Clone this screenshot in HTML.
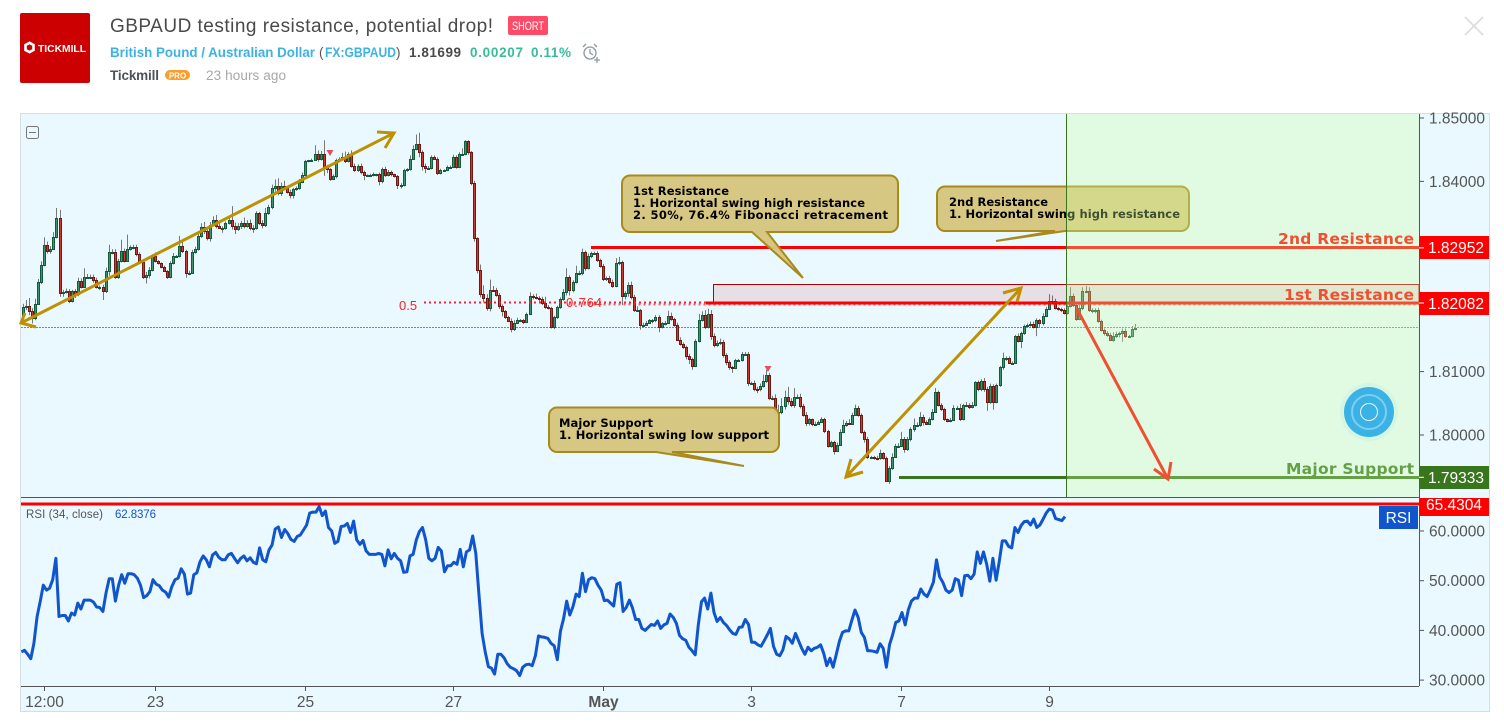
<!DOCTYPE html>
<html lang="en">
<head>
<meta charset="utf-8">
<title>GBPAUD testing resistance, potential drop!</title>
<style>
html,body{margin:0;padding:0;background:#fff;width:1504px;height:726px;overflow:hidden}
svg{display:block}
.sans{font-family:"Liberation Sans",sans-serif}
.note{font-family:"DejaVu Sans","Liberation Sans",sans-serif;font-weight:bold}
.axis{font-family:"Liberation Sans",sans-serif;font-size:15.5px;fill:#555}
</style>
</head>
<body>
<svg id="page" xmlns="http://www.w3.org/2000/svg" width="1504" height="726" viewBox="0 0 1504 726">
  <defs>
    <clipPath id="rsiClip"><rect x="21" y="498" width="1398" height="188"/></clipPath>
    <clipPath id="mainClip"><rect x="21" y="114" width="1398" height="383"/></clipPath>
  </defs>

  <!-- header -->
  <g>
    <rect x="20" y="13" width="70" height="70" rx="2" fill="#cc0000"/>
    <polygon points="25.5,45 29.500,42.800 33.500,45 33.500,50 29.500,52.200 25.500,50" fill="none" stroke="#fff" stroke-width="2.6"/>
    <text x="38" y="52" class="sans" font-size="10.5" font-weight="bold" fill="#fff" textLength="48" lengthAdjust="spacingAndGlyphs">TICKMILL</text>
    <text x="110" y="32" class="sans" font-size="19" fill="#4a4a4a" textLength="383">GBPAUD testing resistance, potential drop!</text>
    <rect x="508" y="16" width="40" height="19" rx="2" fill="#ff4a68"/>
    <text x="528" y="30" class="sans" font-size="12" fill="#fff" text-anchor="middle" textLength="32" lengthAdjust="spacingAndGlyphs">SHORT</text>
    <text x="110" y="57" class="sans" font-size="13.5" font-weight="bold" fill="#3bb3e4" textLength="205" lengthAdjust="spacingAndGlyphs">British Pound / Australian Dollar</text>
    <text x="319" y="57" class="sans" font-size="13.5" fill="#555">(</text>
    <text x="325" y="57" class="sans" font-size="13.5" font-weight="bold" fill="#3bb3e4" textLength="71" lengthAdjust="spacingAndGlyphs">FX:GBPAUD</text>
    <text x="396" y="57" class="sans" font-size="13.5" fill="#555">)</text>
    <text x="409" y="57" class="sans" font-size="13.5" font-weight="bold" fill="#4a4a4a" textLength="52">1.81699</text>
    <text x="470" y="57" class="sans" font-size="13.5" font-weight="bold" fill="#37bc9b" textLength="53">0.00207</text>
    <text x="531" y="57" class="sans" font-size="13.5" font-weight="bold" fill="#37bc9b" textLength="40">0.11%</text>
    <g fill="none" stroke="#8a9aa0" stroke-width="1.3">
      <circle cx="590" cy="53" r="6"/>
      <path d="M590 49v4l3 2M583 47l3-3M597 47l-3-3M594 60h6M597 57v6"/>
    </g>
    <text x="110" y="80" class="sans" font-size="13.5" font-weight="bold" fill="#4c525e" textLength="49">Tickmill</text>
    <rect x="165" y="70" width="25" height="10" rx="5" fill="#f89e2e"/>
    <text x="177.5" y="78.3" class="sans" font-size="8" font-weight="bold" fill="#fff" text-anchor="middle">PRO</text>
    <text x="206" y="80" class="sans" font-size="13.5" fill="#a8a8a8" textLength="80">23 hours ago</text>
    <path d="M1465 17l18 18M1483 17l-18 18" stroke="#dcdcdc" stroke-width="1.6" fill="none"/>
  </g>

  <!-- chart frame -->
  <rect x="20.5" y="113.5" width="1469" height="598" fill="#e9f9ff" stroke="#d6dee4"/>

  <line x1="21" x2="1419" y1="327.5" y2="327.5" stroke="#5a9a80" stroke-width="1" stroke-dasharray="2 1"/>

  <g id="candles" clip-path="url(#mainClip)"></g>

  <polygon points="326.5,150 333.5,150 330,156" fill="#e05060"/>
  <polygon points="764.5,366 771.5,366 768,372" fill="#e05060"/>

  <!-- fib + resistance -->
  <rect x="713.5" y="284.5" width="705.5" height="18" fill="#cc0000" fill-opacity="0.1" stroke="#b00000" stroke-width="1"/>
  <line x1="424" x2="1419" y1="302.500" y2="302.500" stroke="#ff2030" stroke-width="2" stroke-dasharray="2 3"/>
  <line x1="566" x2="1419" y1="304.500" y2="304.500" stroke="#ff2030" stroke-width="2" stroke-dasharray="2 3" stroke-dashoffset="2.500" stroke-opacity="0.7"/>
  <text x="399" y="310" class="sans" font-size="13" fill="#ff2020">0.5</text>
  <text x="566" y="307" class="sans" font-size="13" fill="#ff2020" textLength="36">0.764</text>
  <line x1="591" x2="1419" y1="247.5" y2="247.5" stroke="#ff0000" stroke-width="3"/>
  <line x1="706" x2="1419" y1="303" y2="303" stroke="#ff0000" stroke-width="3"/>
  <line x1="899" x2="1419" y1="477.5" y2="477.5" stroke="#38761d" stroke-width="3"/>

  <text x="1414" y="244" text-anchor="end" class="note" font-size="15.5" fill="#ff0000" textLength="136">2nd Resistance</text>
  <text x="1414" y="300" text-anchor="end" class="note" font-size="15.5" fill="#ff0000" textLength="130">1st Resistance</text>
  <text x="1414" y="474" text-anchor="end" class="note" font-size="15.5" fill="#38761d" textLength="128">Major Support</text>

  <!-- arrows -->
  <g fill="none" stroke="#bf9000" stroke-width="3">
    <path d="M21 323L394 133M377 132L394 133L385 148M36 327L21 323L25 313"/>
  </g>
  <g fill="none" stroke="#bf9000" stroke-width="3">
    <path d="M1021 288L846 477M1003 293L1021 288L1017 302M851 459L846 477L863 472"/>
  </g>
  <g fill="none" stroke="#ff0000" stroke-width="3">
    <path d="M1077 309L1168 479M1154 469L1168 479L1171 462"/>
  </g>

  <!-- callouts -->
  <g>
    <path d="M630 175.500H890a8 8 0 0 1 8 8V224a8 8 0 0 1-8 8H767L803 278L752 232H630a8 8 0 0 1-8-8V183.500a8 8 0 0 1 8-8Z" fill="#d5c57e" fill-opacity="0.97" stroke="#a88a1c" stroke-width="2"/>
    <text x="633" y="195" class="note" font-size="11.500" fill="#000" textLength="96">1st Resistance</text>
    <text x="633" y="207" class="note" font-size="11.500" fill="#000" textLength="232">1. Horizontal swing high resistance</text>
    <text x="633" y="219" class="note" font-size="11.500" fill="#000" textLength="255">2. 50%, 76.4% Fibonacci retracement</text>
  </g>
  <g>
    <path d="M945 186.500H1181a8 8 0 0 1 8 8V223a8 8 0 0 1-8 8H1065L996 241L1055 231H945a8 8 0 0 1-8-8V194.500a8 8 0 0 1 8-8Z" fill="#d5c57e" fill-opacity="0.97" stroke="#a88a1c" stroke-width="2"/>
    <text x="949" y="206" class="note" font-size="11.500" fill="#000" textLength="99">2nd Resistance</text>
    <text x="949" y="218" class="note" font-size="11.500" fill="#000" textLength="231">1. Horizontal swing high resistance</text>
  </g>
  <g>
    <path d="M557 407.500H771a8 8 0 0 1 8 8V444a8 8 0 0 1-8 8H672L744 466L656 452H557a8 8 0 0 1-8-8V415.500a8 8 0 0 1 8-8Z" fill="#d5c57e" fill-opacity="0.97" stroke="#a88a1c" stroke-width="2"/>
    <text x="559" y="427" class="note" font-size="11.500" fill="#000" textLength="94">Major Support</text>
    <text x="559" y="439" class="note" font-size="11.500" fill="#000" textLength="210">1. Horizontal swing low support</text>
  </g>

  <!-- forecast overlay -->
  <rect x="1066" y="114" width="353" height="383" fill="rgb(206,255,161)" fill-opacity="0.31"/>
  <line x1="1066.500" x2="1066.500" y1="114" y2="497" stroke="#38761d" stroke-width="1"/>

  <g>
    <circle cx="1369" cy="412" r="29" fill="#3bb2e6" fill-opacity="0.07"/>
    <circle cx="1369" cy="412" r="25" fill="#3bb2e6"/>
    <circle cx="1369" cy="412" r="17" fill="none" stroke="#ffffff" stroke-opacity="0.35" stroke-width="2"/>
    <circle cx="1369" cy="412" r="8.500" fill="none" stroke="#ffffff" stroke-opacity="0.9" stroke-width="1"/>
  </g>

  <!-- collapse -->
  <g>
    <rect x="26.500" y="126.500" width="12" height="12" rx="2" fill="none" stroke="#777" stroke-width="1"/>
    <line x1="29" x2="36" y1="132.500" y2="132.500" stroke="#777" stroke-width="1"/>
  </g>

  <!-- pane dividers -->
  <line x1="21" x2="1419" y1="497.500" y2="497.500" stroke="#555" stroke-width="1"/>
  <line x1="21" x2="1419" y1="686.500" y2="686.500" stroke="#555" stroke-width="1"/>
  <line x1="1419.500" x2="1419.500" y1="114" y2="686" stroke="#555" stroke-width="1"/>

  <!-- rsi -->
  <path id="rsiLine" clip-path="url(#rsiClip)" fill="none" stroke="#1155cc" stroke-width="3" stroke-linejoin="round"/>
  <line x1="21" x2="1419" y1="504" y2="504" stroke="#ff0000" stroke-width="3"/>
  <text x="26" y="518" class="sans" font-size="11.500" fill="#555" textLength="77">RSI (34, close)</text>
  <text x="115" y="518" class="sans" font-size="11.500" fill="#1155cc" textLength="41">62.8376</text>
  <rect x="1379" y="506" width="39" height="23" fill="#1155cc"/>
  <text x="1398.500" y="523" text-anchor="middle" class="sans" font-size="15.500" fill="#fff">RSI</text>

  <!-- price tags -->
  <g>
    <rect x="1419" y="236" width="70" height="23" fill="#ff0000"/>
    <text x="1428" y="253" class="sans" font-size="15.500" fill="#fff">1.82952</text>
  </g>
  <g>
    <rect x="1419" y="292" width="70" height="23" fill="#ff0000"/>
    <text x="1428" y="309" class="sans" font-size="15.500" fill="#fff">1.82082</text>
  </g>
  <g>
    <rect x="1419" y="466" width="70" height="23" fill="#38761d"/>
    <text x="1428" y="483" class="sans" font-size="15.500" fill="#fff">1.79333</text>
  </g>
  <g>
    <rect x="1419" y="498" width="70" height="18" fill="#ff0000"/>
    <text x="1426" y="510" class="sans" font-size="15.500" fill="#fff">65.4304</text>
  </g>

  <g id="axes"></g>
</svg>

<script>
var firstOpen = 1.8189;
var closes = [
1.8202,1.8204,1.8196,1.8184,1.8207,1.8241,1.8268,1.8300,1.8290,1.8294,1.8312,1.8342,1.8224,1.8226,1.8227,1.8211,1.8227,1.8222,1.8243,1.8234,
1.8249,1.8249,1.8250,1.8244,1.8234,1.8234,1.8227,1.8259,1.8288,1.8288,1.8249,1.8274,1.8290,1.8275,1.8294,1.8296,1.8296,1.8286,1.8273,1.8249,
1.8252,1.8261,1.8282,1.8274,1.8271,1.8265,1.8259,1.8250,1.8271,1.8282,1.8282,1.8298,1.8290,1.8256,1.8256,1.8289,1.8293,1.8314,1.8328,1.8321,
1.8310,1.8331,1.8339,1.8329,1.8327,1.8327,1.8334,1.8339,1.8329,1.8325,1.8330,1.8335,1.8329,1.8334,1.8327,1.8327,1.8350,1.8334,1.8331,1.8350,
1.8359,1.8389,1.8393,1.8382,1.8393,1.8389,1.8384,1.8378,1.8388,1.8389,1.8399,1.8410,1.8432,1.8433,1.8434,1.8443,1.8435,1.8443,1.8423,1.8419,
1.8404,1.8408,1.8434,1.8435,1.8439,1.8432,1.8444,1.8425,1.8418,1.8425,1.8415,1.8410,1.8410,1.8410,1.8411,1.8411,1.8400,1.8419,1.8410,1.8415,
1.8411,1.8408,1.8394,1.8394,1.8418,1.8419,1.8436,1.8451,1.8459,1.8446,1.8424,1.8421,1.8421,1.8438,1.8436,1.8413,1.8418,1.8418,1.8423,1.8423,
1.8439,1.8423,1.8444,1.8444,1.8463,1.8446,1.8397,1.8310,1.8261,1.8222,1.8216,1.8200,1.8229,1.8228,1.8221,1.8203,1.8195,1.8186,1.8180,1.8167,
1.8177,1.8181,1.8181,1.8179,1.8191,1.8219,1.8217,1.8216,1.8214,1.8208,1.8202,1.8200,1.8170,1.8186,1.8202,1.8215,1.8226,1.8249,1.8228,1.8241,
1.8255,1.8255,1.8288,1.8263,1.8282,1.8287,1.8287,1.8276,1.8267,1.8246,1.8248,1.8241,1.8235,1.8271,1.8273,1.8219,1.8224,1.8237,1.8218,1.8197,
1.8197,1.8174,1.8174,1.8177,1.8181,1.8181,1.8186,1.8170,1.8176,1.8177,1.8188,1.8183,1.8174,1.8150,1.8144,1.8139,1.8125,1.8120,1.8109,1.8148,
1.8181,1.8189,1.8170,1.8191,1.8156,1.8142,1.8145,1.8146,1.8126,1.8115,1.8107,1.8106,1.8118,1.8118,1.8128,1.8128,1.8082,1.8082,1.8073,1.8072,
1.8077,1.8085,1.8095,1.8058,1.8058,1.8036,1.8036,1.8046,1.8060,1.8054,1.8047,1.8060,1.8060,1.8046,1.8032,1.8019,1.8025,1.8017,1.8018,1.8021,
1.8025,1.8006,1.7983,1.7989,1.7975,1.7985,1.8005,1.8016,1.8019,1.8018,1.8032,1.8043,1.8032,1.8005,1.7994,1.7965,1.7965,1.7964,1.7963,1.7971,
1.7964,1.7927,1.7948,1.7966,1.7983,1.7983,1.7993,1.7978,1.7993,1.8010,1.8016,1.8016,1.8028,1.8020,1.8018,1.8025,1.8037,1.8068,1.8047,1.8041,
1.8025,1.8022,1.8024,1.8043,1.8043,1.8025,1.8047,1.8047,1.8044,1.8048,1.8083,1.8072,1.8085,1.8072,1.8052,1.8077,1.8052,1.8079,1.8107,1.8122,
1.8122,1.8114,1.8114,1.8156,1.8149,1.8161,1.8172,1.8173,1.8175,1.8170,1.8181,1.8176,1.8188,1.8199,1.8212,1.8212,1.8200,1.8198,1.8197,1.8192,
1.8204,1.8219,1.8205,1.8183,1.8200,1.8227,1.8227,1.8197,1.8197,1.8197,1.8180,1.8166,1.8161,1.8158,1.8150,1.8156,1.8160,1.8161,1.8164,1.8156,
1.8156,1.8167,1.8168];
var wickUpPips = [
5,9,12,4,8,5,6,12,5,4,8,16,13,3,4,3,2,3,5,4,
14,5,3,3,4,2,3,5,12,5,5,4,18,4,22,3,4,4,2,3,
5,4,3,6,2,1,2,1,3,5,2,16,10,2,3,3,4,5,6,8,
4,5,6,8,5,2,3,4,22,6,4,3,8,5,6,4,3,2,5,8,
4,6,10,12,5,8,3,3,2,3,5,4,2,1,2,14,6,5,22,3,
2,3,2,3,6,8,2,5,3,2,3,2,1,2,3,1,3,3,4,3,
2,1,2,3,2,2,5,6,15,18,3,4,3,3,3,2,2,1,2,2,
3,2,2,8,2,2,2,4,2,8,14,6,16,6,4,3,3,2,2,4,
4,4,2,2,2,6,3,6,3,4,10,3,2,2,2,2,4,14,3,3,
12,4,6,3,4,2,2,3,2,3,2,3,4,8,8,2,3,4,5,3,
6,2,3,3,2,2,3,3,2,3,8,5,2,3,4,2,2,3,2,3,
10,6,8,8,6,4,4,6,4,3,3,2,2,2,3,3,3,2,4,3,
4,10,8,3,4,6,12,12,10,16,4,14,4,5,3,4,2,1,3,2,
3,2,2,2,2,3,4,8,3,6,3,5,3,2,2,3,2,2,3,6,
2,2,3,5,3,4,12,4,4,2,10,4,8,4,3,3,4,6,2,3,
2,1,3,4,3,6,2,5,3,4,2,3,3,5,4,4,3,2,2,8,
2,2,2,2,4,2,2,3,4,4,3,2,4,3,10,8,3,2,3,3,
3,14,4,3,4,6,8,6,3,3,4,2,2,3,3,6,3,2,4,4,
2,5,7];
var wickDownPips = [
8,5,7,8,3,2,3,2,4,4,2,2,6,6,3,3,2,6,3,3,
2,3,2,4,3,5,14,3,8,3,3,3,2,3,2,3,3,4,3,3,
10,5,3,2,2,2,2,4,3,2,2,2,3,8,3,2,3,2,3,4,
3,5,2,3,2,8,3,2,5,8,3,5,3,2,4,8,3,3,5,3,
3,3,5,4,5,3,3,5,5,3,2,2,2,2,2,2,4,2,14,6,
3,2,3,2,2,3,2,3,3,3,4,8,3,2,2,3,6,3,3,2,
3,2,6,5,2,3,2,2,2,8,7,8,3,2,2,3,2,2,2,3,
2,3,2,2,3,4,3,5,6,5,7,4,5,2,3,4,8,3,2,5,
3,2,3,4,2,2,3,2,5,3,3,2,2,3,3,3,3,6,8,3,
2,3,3,4,2,3,2,3,3,3,3,3,3,2,3,14,5,6,4,3,
3,8,4,2,2,5,3,8,2,3,2,3,3,2,3,3,6,8,6,2,
2,2,3,2,6,4,3,3,4,5,4,8,2,2,2,2,5,3,4,6,
3,2,3,3,3,3,3,3,6,6,3,4,3,4,3,5,4,3,2,2,
2,3,3,3,6,2,2,2,3,2,2,2,3,3,6,3,3,3,3,2,
3,1,4,3,2,3,2,6,3,3,5,2,3,5,2,2,2,2,2,3,
3,2,2,2,2,3,2,3,3,2,3,3,3,4,14,3,12,2,3,4,
5,2,3,2,3,12,3,3,2,2,14,6,3,2,2,2,2,2,3,2,
2,3,3,3,2,3,3,3,5,5,3,3,4,3,2,3,3,6,14,3,
3,2,2];
var rsiValues = [
35.7,36,35.2,34.3,37.4,42.8,45.8,49.1,48.1,48.5,50.2,54.5,42.8,43,43,41.9,43.5,43.1,45.5,44.3,
46.1,46.1,46.1,45.7,44.7,44.6,43.8,47.5,50.4,50.4,45.9,49.1,51.2,49.5,51.4,51.4,51.2,50.5,49.1,46.6,
47,47.8,50.2,49.3,49,48.1,47.7,46.7,48.8,50.2,50.5,52.4,51.3,47.3,47.5,51.2,51.6,53.8,55,54.2,
52.8,55.2,55.7,54.7,54.2,54.2,55.2,55.5,54.5,53.6,54.5,55,54,54.6,53.7,53.4,56.6,54.2,53.8,56.2,
57.2,60.4,60.8,58.7,60.3,59.5,58.3,57.9,58.9,59.2,60.2,61.2,63.6,63.8,63.8,64.9,63.1,64,60.7,60,
57.5,57.9,60.9,61,61.5,59.7,62,58.2,57.3,58.1,56,55.3,55.3,55.3,55.5,55.3,53,56.2,54.4,55.5,
54.5,54,51.7,51.8,55,55.3,58.2,59.9,60.7,58.2,54.5,54,54.5,56.7,56,51.8,53,53,53.7,53.3,
56.3,52.8,55.8,56.2,59,55.5,47.1,39.4,35.7,32.7,32.4,31.2,35.2,35.2,34.5,33.3,32.6,32.3,31.9,30.9,
32.6,33.1,33.2,32.9,34.9,38.9,38.7,38.6,
38.4,37.4,36.9,34.1,39.8,42.4,45.9,43.1,44.8,47.3,46.8,51.5,47.8,50.2,50.6,50.4,49.1,48.1,46,46.1,
45.5,44.9,49.3,49.6,43.8,44.6,46.1,44.5,42.2,42.2,40.4,40,40.6,41.2,41,41.9,40.4,41.1,41.4,43.3,
42.6,41.4,39,38.3,38,36.6,35.9,35.1,41.1,45.8,46.5,44.3,47.5,43.6,41.8,42.6,41.6,41,40.1,39.4,
39.2,40.6,40.7,42.2,41.2,37.6,37.6,37.1,36.8,37.9,39.1,40.4,36.8,35.2,34.9,36.1,38.8,38.3,37.4,39.4,
37.9,36.4,35.2,36.6,35.9,36.4,36.6,37.1,35.4,32.9,34.4,32.6,35.1,37.8,39.6,39.9,39.9,42.1,44.1,42.6,
39.6,38.6,35.9,35.9,35.8,35.6,37.3,36.4,32.6,37.1,39.1,41.6,41.9,43.6,41.1,44.1,45.9,46.5,46.5,48.3,
47.3,46.8,48.1,49.7,54.2,50.8,49.7,48.1,47.6,48.1,50.4,50.1,47,51,51.1,50.4,51.3,55.8,53.5,55.8,
53.3,49.9,54.5,50.1,53.8,58,58,56.9,56.6,60.7,59.7,61.1,61.9,62,61.2,62.4,60.7,61.2,62.4,63.6,
64.4,64.2,62.5,62.3,62.1,62.9];
var priceTicks = [1.85, 1.84, 1.81, 1.80];
var priceTickLabels = ["1.85000", "1.84000", "1.81000", "1.80000"];
var taggedPriceTicks = [1.82952, 1.82082, 1.79333];
var rsiTicks = [60, 50, 40, 30];
var rsiTickLabels = ["60.0000", "50.0000", "40.0000", "30.0000"];
var timeTickBars = [7, 43, 92, 140, 189, 237, 286, 334];
var timeTickLabels = ["12:00", "23", "25", "27", "May", "3", "7", "9"];

var SVGNS = "http://www.w3.org/2000/svg";
function yPrice(p) { return 118 + (1.85 - p) * 6340; }
function yRsi(v) { return 531 + (60 - v) * 4.97; }
function xBar(i) { return 22.7 + i * (1112 / (closes.length - 1)); }
function xRsi(i) { return 21.4 + i * (1043.6 / (rsiValues.length - 1)); }
function make(tag, attrs) {
  var e = document.createElementNS(SVGNS, tag);
  for (var k in attrs) e.setAttribute(k, attrs[k]);
  return e;
}

var candleGroup = document.getElementById("candles");
closes.forEach(function (c, i) {
  var o = i === 0 ? firstOpen : closes[i - 1];
  var top = Math.max(o, c), bottom = Math.min(o, c);
  var up = c >= o;
  var cx = Math.round(xBar(i));
  var wick = make("line", {
    x1: cx + 0.5, x2: cx + 0.5,
    y1: yPrice(top + wickUpPips[i] / 10000),
    y2: yPrice(bottom - wickDownPips[i] / 10000),
    stroke: "#777", "stroke-width": 1
  });
  
  
  candleGroup.appendChild(wick);
  var yTop = Math.round(yPrice(top));
  var yBot = Math.round(yPrice(bottom));
  var body = make("rect", {
    x: cx - 0.5, y: yTop + 0.5,
    width: 2, height: Math.max(yBot - yTop, 1),
    fill: up ? "#3f9470" : "#d03a2c",
    stroke: up ? "#155a3a" : "#6e1a12",
    "stroke-width": 1
  });
  
  
  candleGroup.appendChild(body);
});

var d = rsiValues.map(function (v, i) {
  return (i ? "L" : "M") + xRsi(i).toFixed(1) + " " + yRsi(v).toFixed(1);
}).join("");
document.getElementById("rsiLine").setAttribute("d", d);

var axes = document.getElementById("axes");
priceTicks.forEach(function (p, i) {
  var y = yPrice(p);
  var t = make("line", { x1: 1419, x2: 1424, y1: y, y2: y, stroke: "#555" });
  
  
  axes.appendChild(t);
  var l = make("text", { x: 1429, y: y + 5.5, "class": "axis" });
  
  
  l.textContent = priceTickLabels[i];
  axes.appendChild(l);
});
taggedPriceTicks.forEach(function (p) {
  var y = yPrice(p);
  var t = make("line", { x1: 1419, x2: 1424, y1: y, y2: y, stroke: "#fff" });
  
  
  axes.appendChild(t);
});
rsiTicks.forEach(function (v, i) {
  var y = yRsi(v);
  var t = make("line", { x1: 1419, x2: 1424, y1: y, y2: y, stroke: "#555" });
  
  
  axes.appendChild(t);
  var l = make("text", { x: 1429, y: y + 5.5, "class": "axis" });
  
  
  l.textContent = rsiTickLabels[i];
  axes.appendChild(l);
});
timeTickBars.forEach(function (b, i) {
  var x = Math.round(xBar(b)) + 0.5;
  var t = make("line", { x1: x, x2: x, y1: 686, y2: 691, stroke: "#555" });
  
  
  axes.appendChild(t);
  var l = make("text", { x: x, y: 707, "text-anchor": "middle", "class": "axis" });
  
  
  if (timeTickLabels[i] === "May") l.setAttribute("font-weight", "bold");
  l.textContent = timeTickLabels[i];
  axes.appendChild(l);
});
</script>
</body>
</html>
